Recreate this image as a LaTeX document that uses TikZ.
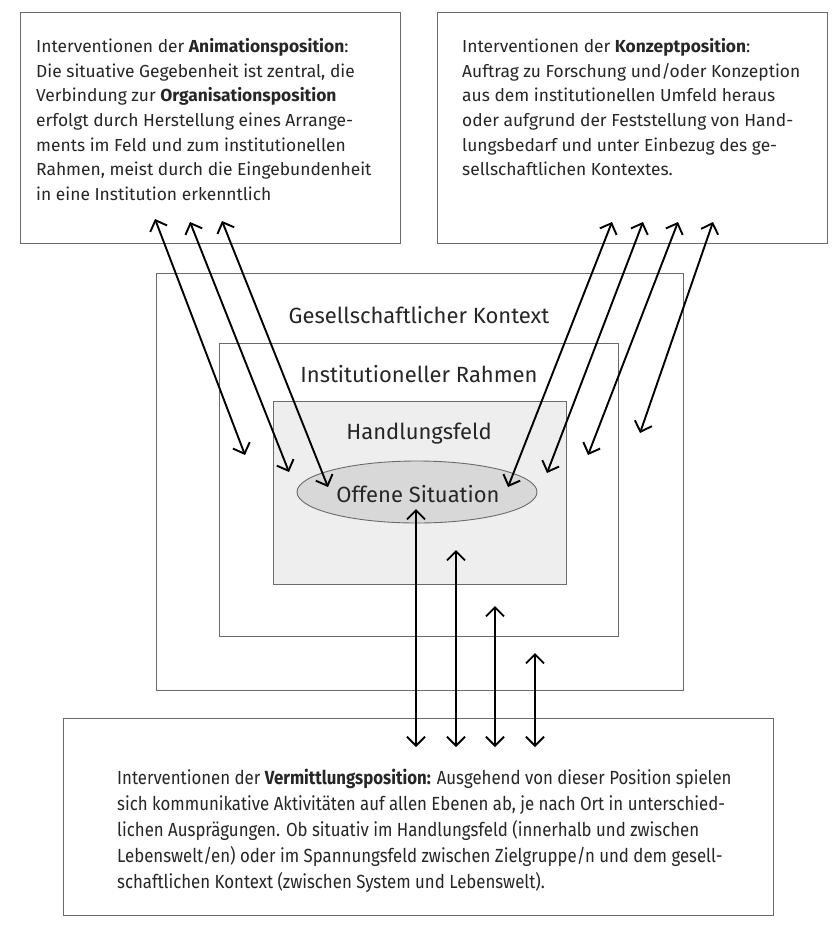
\documentclass[tikz,border=0pt]{standalone}
\usepackage{fontspec}
\setmainfont{Fira Sans}
\newfontfamily\condfont[FakeStretch=0.885]{Fira Sans}
\usetikzlibrary{arrows.meta,shapes.geometric}
\definecolor{ink}{HTML}{262626}
\definecolor{framec}{HTML}{6A6A6A}
\definecolor{fieldfill}{HTML}{EEEEEE}
\definecolor{ellfill}{HTML}{D8D8D8}
\begin{document}
\begin{tikzpicture}[x=1pt,y=-1pt,
  frame/.style={draw=framec, line width=0.9pt, inner sep=0pt},
  txt/.style={inner sep=0pt, anchor=north west, align=left, text=ink,
    font=\fontsize{17.4}{24.7}\selectfont},
  btxt/.style={inner sep=0pt, anchor=north west, align=left, text=ink,
    font=\condfont\fontsize{19}{26}\selectfont},
  lbl/.style={inner sep=0pt, text=ink, font=\fontsize{22}{24}\selectfont},
  barb/.tip={Straight Barb[length=9pt,width=18pt,line width=1.9pt]},
  conn/.style={line width=1.9pt, black, barb-barb}
]
\useasboundingbox (0,0) rectangle (836,943);
\fill[white] (0,0) rectangle (836,943);

% boxes
\draw[frame] (20,12) rectangle (400,243);
\draw[frame] (437,12) rectangle (827,243);
\draw[frame] (63,718) rectangle (773,915);
\node[frame, minimum width=527, minimum height=417] (gk) at (419.5,481.5) {};
\node[frame, minimum width=399, minimum height=293] (ir) at (418.5,489.5) {};
\node[frame, fill=fieldfill, minimum width=293, minimum height=183] (hf) at (419.5,492.5) {};
\node[ellipse, draw=framec, line width=0.9pt, fill=ellfill, minimum width=240, minimum height=62, inner sep=0pt] (os) at (417,492) {};

% labels
\node[lbl] (gkl) at (419,315) {Gesellschaftlicher Kontext};
\node[lbl] (irl) at (419,374) {Institutioneller Rahmen};
\node[lbl] (hfl) at (419,434) {Handlungsfeld};
\node[lbl] (osl) at (418,494) {Offene Situation};

% texts
\node[txt] (ta) at (36,38) {Interventionen der \textbf{Animationsposition}:\\
Die situative Gegebenheit ist zentral, die\\
Verbindung zur \textbf{Organisationsposition}\\
erfolgt durch Herstellung eines Arrange-\\
ments im Feld und zum institutionellen\\
Rahmen, meist durch die Eingebundenheit\\
in eine Institution erkenntlich};
\node[txt] (tk) at (462,38) {Interventionen der \textbf{Konzeptposition}:\\
Auftrag zu Forschung und/oder Konzeption\\
aus dem institutionellen Umfeld heraus\\
oder aufgrund der Feststellung von Hand-\\
lungsbedarf und unter Einbezug des ge-\\
sellschaftlichen Kontextes.};
\node[btxt] (tv) at (117,769) {Interventionen der \textbf{Vermittlungsposition:} Ausgehend von dieser Position spielen\\
sich kommunikative Aktivitäten auf allen Ebenen ab, je nach Ort in unterschied-\\
lichen Ausprägungen. Ob situativ im Handlungsfeld (innerhalb und zwischen\\
Lebenswelt/en) oder im Spannungsfeld zwischen Zielgruppe/n und dem gesell-\\
schaftlichen Kontext (zwischen System und Lebenswelt).};

% connector end points
\coordinate (a1s) at (155,219); \coordinate (a1e) at (245,455);
\coordinate (a2s) at (190,222); \coordinate (a2e) at (289,472);
\coordinate (a3s) at (222,221); \coordinate (a3e) at (328,487);
\coordinate (b1s) at (612,222); \coordinate (b1e) at (508,487);
\coordinate (b2s) at (643,222); \coordinate (b2e) at (547,473);
\coordinate (b3s) at (678,222); \coordinate (b3e) at (588,455);
\coordinate (b4s) at (713,222); \coordinate (b4e) at (640,433);
\coordinate (c1s) at (416,747); \coordinate (c1e) at (416,509);
\coordinate (c2s) at (456,747); \coordinate (c2e) at (456,550);
\coordinate (c3s) at (495,747); \coordinate (c3e) at (495,606);
\coordinate (c4s) at (535,747); \coordinate (c4e) at (535,653);

\foreach \n in {a1,a2,a3,b1,b2,b3,b4,c1,c2,c3,c4}
  \draw[conn] (\n s) -- (\n e);
\end{tikzpicture}
\end{document}
